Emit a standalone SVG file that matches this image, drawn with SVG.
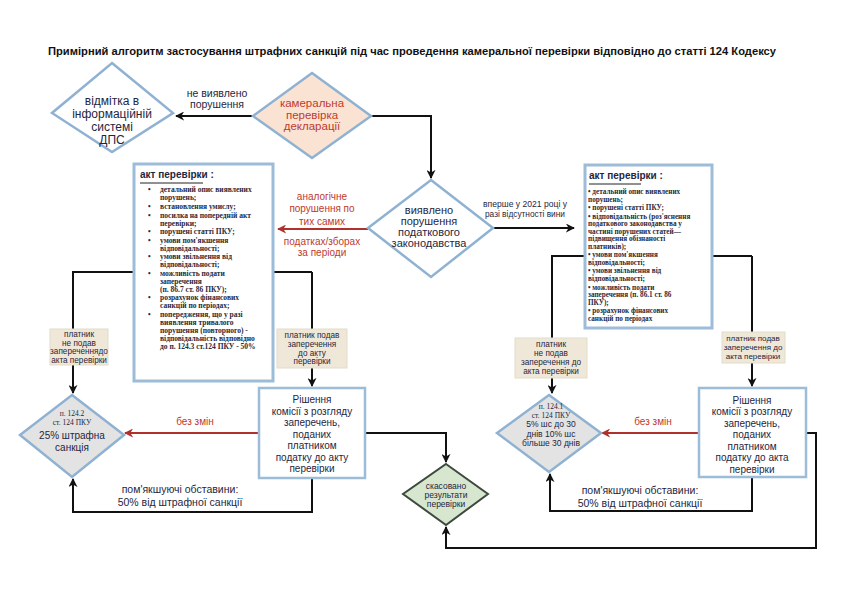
<svg xmlns="http://www.w3.org/2000/svg" width="842" height="596" viewBox="0 0 842 596">
<defs>
<marker id="ah" viewBox="0 0 10 10" refX="9" refY="5" markerWidth="9" markerHeight="9" markerUnits="userSpaceOnUse" orient="auto">
<path d="M0,0 L10,5 L0,10 L3,5 z" fill="#111"/>
</marker>
<marker id="ahr" viewBox="0 0 10 10" refX="9" refY="5" markerWidth="9" markerHeight="9" markerUnits="userSpaceOnUse" orient="auto">
<path d="M0,0 L10,5 L0,10 L3,5 z" fill="#b0312c"/>
</marker>
<style>
.t{font-family:"Liberation Sans",Arial,sans-serif;fill:#1f2640;text-anchor:middle}
.red{fill:#c0392b}
.ser{font-family:"Liberation Serif","Times New Roman",serif;font-weight:bold;fill:#2a2a3a;font-size:7.5px}
.ln{fill:none;stroke:#111;stroke-width:2}
.lr{fill:none;stroke:#b0312c;stroke-width:2}
.dia{stroke:#8fb2d2;stroke-width:2.5}
.box{fill:#fff;stroke:#9dbcd8;stroke-width:3}
.bg{fill:#efe8d8;stroke:#e2dccb;stroke-width:1}
</style>
</defs>
<rect width="842" height="596" fill="#fff"/>
<text x="412" y="55" class="t" style="font-weight:bold;font-size:11.5px;fill:#111" textLength="728" lengthAdjust="spacingAndGlyphs">Примірний алгоритм застосування штрафних санкцій під час проведення камеральної перевірки відповідно до статті 124 Кодексу</text>

<g id="connectors">
<path class="ln" d="M253,116 H176" marker-end="url(#ah)"/>
<path class="ln" d="M371,116 H431 V178" marker-end="url(#ah)"/>
<path class="lr" d="M368,229 H278" marker-end="url(#ahr)"/>
<path class="ln" d="M493,228 H574" marker-end="url(#ah)"/>
<path class="ln" d="M312,272 H73 V393" marker-end="url(#ah)"/>
<path class="ln" d="M312,272 V386" marker-end="url(#ah)"/>
<path class="ln" d="M752,256 H552 V393" marker-end="url(#ah)"/>
<path class="ln" d="M752,256 V386" marker-end="url(#ah)"/>
<path class="lr" d="M259,433 H125" marker-end="url(#ahr)"/>
<path class="ln" d="M312,478 V512 H73 V479" marker-end="url(#ah)"/>
<path class="ln" d="M365,433 H446 V462" marker-end="url(#ah)"/>
<path class="lr" d="M699,433 H602" marker-end="url(#ahr)"/>
<path class="ln" d="M752,477 V511 H550 V474" marker-end="url(#ah)"/>
<path class="ln" d="M806,433 H816 V548 H446 V527" marker-end="url(#ah)"/>
<text x="217" y="97" class="t" style="font-size:10.5px">не виявлено</text>
<text x="217" y="108" class="t" style="font-size:10.5px">порушення</text>
<g class="t red" style="font-size:10px">
<text x="322" y="200">аналогічне</text>
<text x="322" y="212">порушення по</text>
<text x="322" y="225">тих   самих</text>
<text x="322" y="245">податках/зборах</text>
<text x="322" y="256">за періоди</text>
</g>
<text x="525" y="207" class="t" style="font-size:9px" textLength="84" lengthAdjust="spacingAndGlyphs">вперше у 2021 році у</text>
<text x="525" y="217" class="t" style="font-size:9px" textLength="80" lengthAdjust="spacingAndGlyphs">разі відсутності вини</text>
<text x="195" y="425" class="t red" style="font-size:10px">без змін</text>
<text x="180" y="493" class="t" style="font-size:10.5px">пом'якшуючі обставини:</text>
<text x="180" y="506" class="t" style="font-size:10.5px">50% від штрафної санкції</text>
<text x="653" y="425" class="t red" style="font-size:10px">без змін</text>
<text x="640" y="494" class="t" style="font-size:10.5px">пом'якшуючі обставини:</text>
<text x="640" y="507" class="t" style="font-size:10.5px">50% від штрафної санкції</text>
</g>

<g id="mark-dps">
<polygon class="dia" fill="#fff" points="112,63 173,113 112,152 52,113"/>
<g class="t" style="font-size:12px">
<text x="112" y="105">відмітка в</text>
<text x="112" y="118">інформаційній</text>
<text x="112" y="131">системі</text>
<text x="112" y="144">ДПС</text>
</g>
</g>

<g id="kameralna">
<polygon class="dia" fill="#fbe3d4" points="312,73 371,116 312,158 253,116"/>
<g class="t red" style="font-size:11.5px">
<text x="312" y="107">камеральна</text>
<text x="312" y="118.5">перевірка</text>
<text x="312" y="130">декларації</text>
</g>
</g>

<g id="vyiavleno">
<polygon class="dia" fill="#fff" points="431,180 493,228 431,277 368,228"/>
<g class="t" style="font-size:11px">
<text x="429" y="214">виявлено</text>
<text x="429" y="225">порушення</text>
<text x="429" y="236">податкового</text>
<text x="429" y="247">законодавства</text>
</g>
</g>

<g id="akt-left">
<rect class="box" x="134" y="164" width="139" height="217"/>
<text x="140" y="178" class="t" style="font-size:10px;font-weight:bold;text-anchor:start">акт  перевірки  :</text>
<line x1="140" y1="183" x2="203" y2="183" stroke="#222" stroke-width="1"/>
<g class="ser">
<text x="148" y="192">•</text><text x="160" y="192">детальний опис виявлених</text>
<text x="160" y="200">порушень;</text>
<text x="148" y="209">•</text><text x="160" y="209">встановлення умислу;</text>
<text x="148" y="217.5">•</text><text x="160" y="217.5">посилка на попередній акт</text>
<text x="160" y="225.5">перевірки;</text>
<text x="148" y="234">•</text><text x="160" y="234">порушені статті ПКУ;</text>
<text x="148" y="242.5">•</text><text x="160" y="242.5">умови пом'якшення</text>
<text x="160" y="250.5">відповідальності;</text>
<text x="148" y="259">•</text><text x="160" y="259">умови звільнення від</text>
<text x="160" y="267">відповідальності;</text>
<text x="148" y="275.5">•</text><text x="160" y="275.5">можливість подати</text>
<text x="160" y="283.5">заперечення</text>
<text x="160" y="291.5">(п. 86.7 ст. 86 ПКУ);</text>
<text x="148" y="300">•</text><text x="160" y="300">розрахунок фінансових</text>
<text x="160" y="308">санкцій по періодах;</text>
<text x="148" y="316.5">•</text><text x="160" y="316.5">попередження, що у разі</text>
<text x="160" y="324.5">виявлення тривалого</text>
<text x="160" y="332.5">порушення (повторного) -</text>
<text x="160" y="340.5">відповідальність відповідно</text>
<text x="160" y="348.5">до п. 124.3 ст.124 ПКУ - 50%</text>
</g>
</g>

<g id="akt-right">
<rect class="box" x="585" y="165" width="127" height="163"/>
<text x="589" y="179" class="t" style="font-size:10px;font-weight:bold;text-anchor:start">акт  перевірки  :</text>
<line x1="589" y1="184" x2="641" y2="184" stroke="#222" stroke-width="1"/>
<g class="ser" style="font-size:7.2px">
<text x="588" y="194">•  детальний опис виявлених</text>
<text x="588" y="201.6">порушень;</text>
<text x="588" y="210">• порушені статті ПКУ;</text>
<text x="588" y="218.5">• відповідальність (роз'яснення</text>
<text x="588" y="226">податкового законодавства у</text>
<text x="588" y="233.6">частині порушених статей—</text>
<text x="588" y="241.2">підвищення обізнаності</text>
<text x="588" y="248.8">платників);</text>
<text x="588" y="257.2">• умови пом'якшення</text>
<text x="588" y="264.8">відповідальності;</text>
<text x="588" y="273.3">• умови звільнення від</text>
<text x="588" y="281">відповідальності;</text>
<text x="588" y="289.5">• можливість подати</text>
<text x="588" y="297.1">заперечення (п. 86.1 ст. 86</text>
<text x="588" y="304.7">ПКУ);</text>
<text x="588" y="313.2">• розрахунок фінансових</text>
<text x="588" y="320.8">санкцій по періодах</text>
</g>
</g>

<g id="ne-podav-left">
<rect class="bg" x="50" y="329" width="58" height="36"/>
<g class="t" style="font-size:8.2px">
<text x="79" y="337">платник</text>
<text x="79" y="345.5">не подав</text>
<text x="79" y="354">запереченнядо</text>
<text x="79" y="362.5">акта перевірки</text>
</g>
</g>

<g id="podav-left">
<rect class="bg" x="277" y="329" width="70" height="39"/>
<g class="t" style="font-size:8.2px">
<text x="312" y="338">платник подав</text>
<text x="312" y="347">заперечення</text>
<text x="312" y="355.5">до акту</text>
<text x="312" y="364">перевірки</text>
</g>
</g>

<g id="ne-podav-right">
<rect class="bg" x="515" y="338" width="72" height="40"/>
<g class="t" style="font-size:8.2px">
<text x="551" y="347">платник</text>
<text x="551" y="356">не подав</text>
<text x="551" y="365">заперечення до</text>
<text x="551" y="374">акта перевірки</text>
</g>
</g>

<g id="podav-right">
<rect class="bg" x="722" y="332" width="63" height="31"/>
<g class="t" style="font-size:8px">
<text x="753" y="340.5">платник подав</text>
<text x="753" y="349.5">заперечення до</text>
<text x="753" y="358.5">акта перевірки</text>
</g>
</g>

<g id="sanction-25">
<polygon class="dia" fill="#e3e3e3" points="72,395 124,435 72,477 20,435"/>
<text x="72" y="416" class="t" style="font-family:'Liberation Serif',serif;font-size:7.5px">п. 124.2</text>
<text x="72" y="425" class="t" style="font-family:'Liberation Serif',serif;font-size:7.5px">ст. 124 ПКУ</text>
<text x="72" y="439" class="t" style="font-size:10px">25% штрафна</text>
<text x="72" y="451" class="t" style="font-size:10px">санкція</text>
</g>

<g id="rishennia-left">
<rect x="259" y="388" width="106" height="90" fill="#fff" stroke="#9dbcd8" stroke-width="2.5"/>
<g class="t" style="font-size:10px">
<text x="312" y="403">Рішення</text>
<text x="312" y="414.5">комісії з розгляду</text>
<text x="312" y="426">заперечень,</text>
<text x="312" y="437.5">поданих</text>
<text x="312" y="449">платником</text>
<text x="312" y="460.5">податку до акту</text>
<text x="312" y="472">перевірки</text>
</g>
</g>

<g id="skasovano">
<polygon fill="#d7e6cf" stroke="#3d4a3d" stroke-width="2" points="446,464 488,494 446,525 403,494"/>
<g class="t" style="font-size:8.5px">
<text x="446" y="489">скасовано</text>
<text x="446" y="498">результати</text>
<text x="446" y="507">перевірки</text>
</g>
</g>

<g id="sanction-5-10">
<polygon class="dia" fill="#e3e3e3" points="549,395 601,433 549,472 497,433"/>
<text x="551" y="409" class="t" style="font-family:'Liberation Serif',serif;font-size:7.5px">п. 124.1</text>
<text x="551" y="417.5" class="t" style="font-family:'Liberation Serif',serif;font-size:7.5px">ст. 124 ПКУ</text>
<text x="551" y="427" class="t" style="font-size:8.5px">5% шс до 30</text>
<text x="551" y="436.5" class="t" style="font-size:8.5px">днів  10% шс</text>
<text x="551" y="446" class="t" style="font-size:8.5px">більше 30 днів</text>
</g>

<g id="rishennia-right">
<rect x="699" y="388" width="107" height="89" fill="#fff" stroke="#9dbcd8" stroke-width="2.5"/>
<g class="t" style="font-size:10px">
<text x="752" y="403.5">Рішення</text>
<text x="752" y="415">комісії з розгляду</text>
<text x="752" y="426.5">заперечень,</text>
<text x="752" y="438">поданих</text>
<text x="752" y="449.5">платником</text>
<text x="752" y="461">податку до акта</text>
<text x="752" y="472.5">перевірки</text>
</g>
</g>
</svg>
